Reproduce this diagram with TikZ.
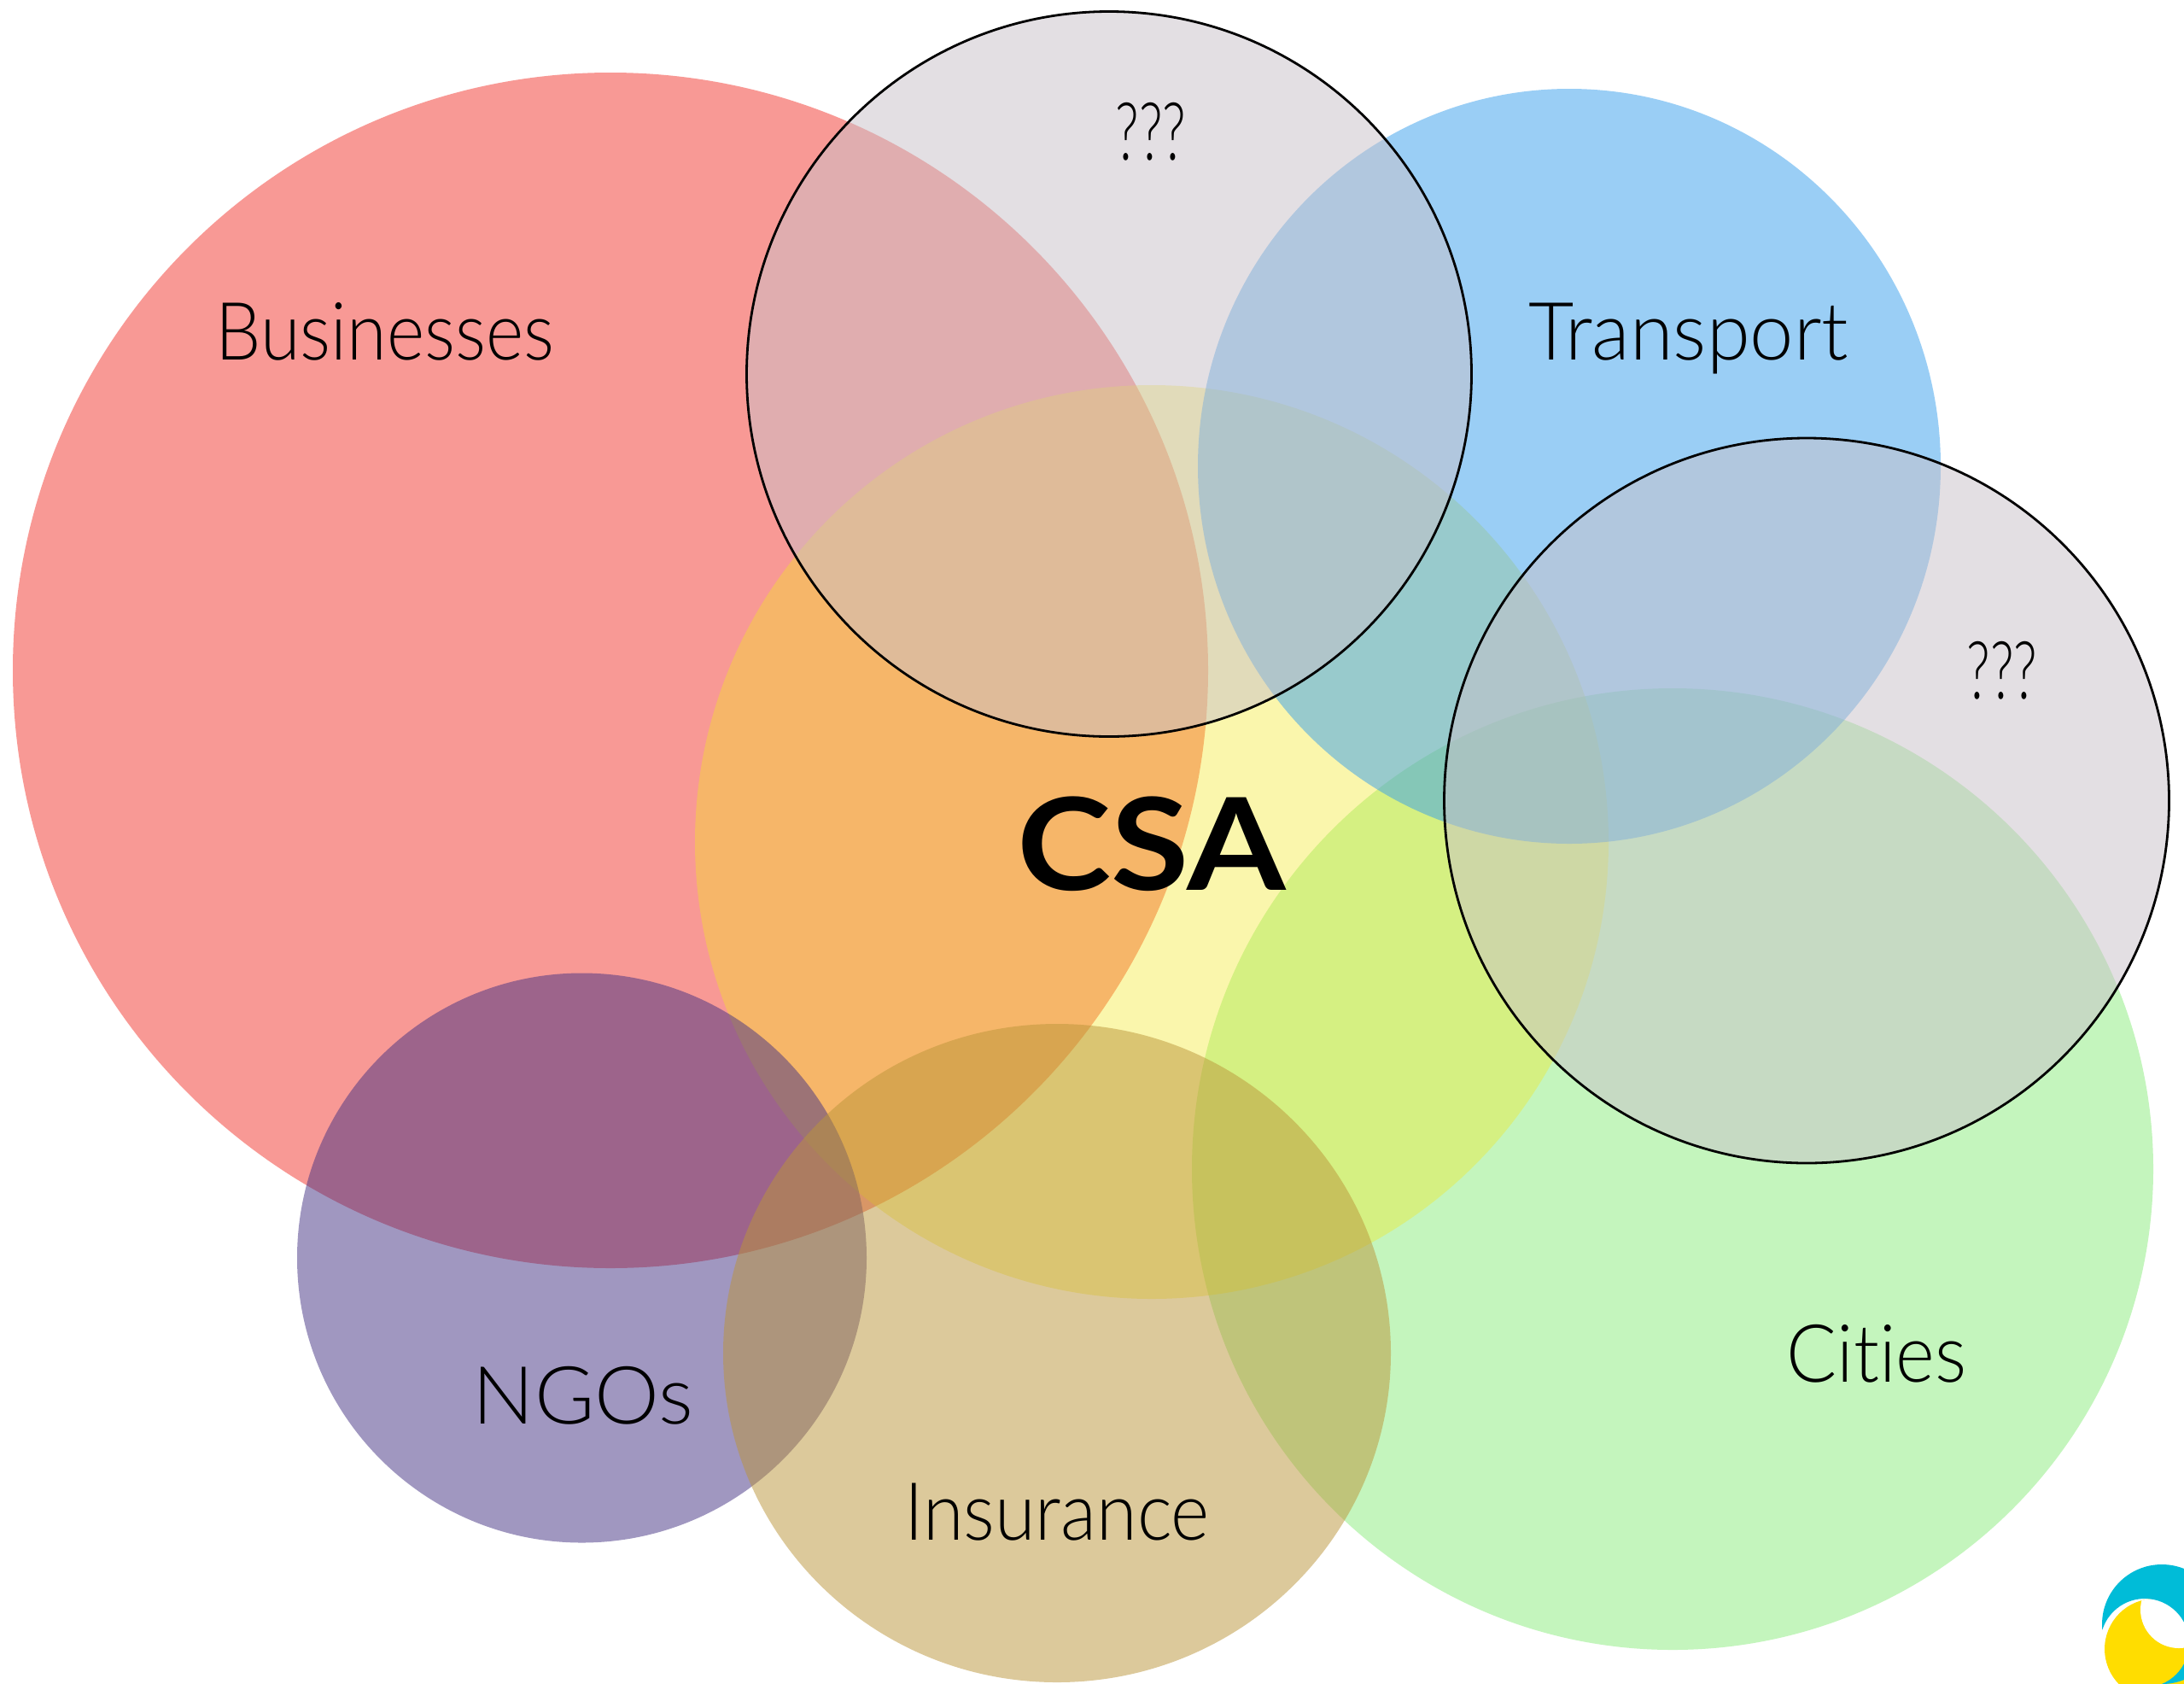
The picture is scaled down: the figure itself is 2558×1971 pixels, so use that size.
\documentclass[tikz,border=0pt]{standalone}
\usepackage{graphicx}
\usepackage{fontspec}
\usetikzlibrary{shapes.geometric}
\setmainfont{Lato}[UprightFont=* Light,BoldFont=* Bold,Ligatures=NoCommon]
\newcommand{\hsq}[2]{\scalebox{#1}[1]{#2}}
\tikzset{
  x=1pt,y=-1pt,
  venn/.style={circle,inner sep=0pt,outer sep=0pt,fill opacity=#1},
  venn/.default=0.5,
  vennell/.style={ellipse,inner sep=0pt,outer sep=0pt,fill opacity=0.5},
  outlined/.style={circle,inner sep=0pt,outer sep=0pt,draw=black,line width=2.8pt,fill=QGrey,fill opacity=0.5},
  lab/.style={anchor=base,inner sep=0pt,font=\fontsize{94}{94}\selectfont,text=black},
}
\definecolor{BizRed}{RGB}{243,53,45}
\definecolor{CsaYel}{RGB}{244,233,30}
\definecolor{TrBlue}{RGB}{55,159,237}
\definecolor{CityGr}{RGB}{138,236,124}
\definecolor{NgoPur}{RGB}{67,49,131}
\definecolor{InsTan}{RGB}{187,149,57}
\definecolor{QGrey}{RGB}{201,193,201}
\definecolor{LogoCy}{RGB}{0,188,216}
\definecolor{LogoYe}{RGB}{255,221,0}
\begin{document}
\begin{tikzpicture}
\useasboundingbox (0,0) rectangle (2558,1971);
\fill[white] (0,0) rectangle (2558,1971);
\node[venn=0.5,fill=BizRed,minimum size=1400pt] (biz) at (715,785) {};
\node[venn=0.5,fill=CityGr,minimum size=1126pt] (cit) at (1959,1369) {};
\node[venn=0.37,fill=CsaYel,minimum size=1070pt] (csa) at (1349,986) {};
\node[vennell,fill=TrBlue,minimum width=870pt,minimum height=884pt] (tra) at (1838,546) {};
\node[venn=0.5,fill=NgoPur,minimum size=667pt] (ngo) at (681.5,1473) {};
\node[vennell,fill=InsTan,minimum width=782pt,minimum height=771pt] (ins) at (1238,1584.5) {};
\node[outlined,minimum size=849pt] (q1) at (1299,438) {};
\node[outlined,minimum size=849pt] (q2) at (2116,937.5) {};
\begin{scope}
\clip (0,0) rectangle (2558,1971);
\begin{scope}
\clip (2524,1931) circle[radius=59];
\fill[LogoYe] (2440,1860) rectangle (2590,1990);
\fill[white] (2552,1885) circle[radius=45];
\end{scope}
\begin{scope}
\clip (2532,1902) circle[radius=70];
\fill[LogoCy,even odd rule] (2440,1810) rectangle (2620,1990) (2512,1924) circle[radius=52];
\end{scope}
\end{scope}
\node[lab] (tbiz) at (451,421) {\hsq{0.9}{Businesses}};
\node[lab] (ttra) at (1978,421) {\hsq{0.98}{Transport}};
\node[lab] (tcit) at (2198,1618) {\hsq{0.93}{Cities}};
\node[lab] (tngo) at (683,1667) {\hsq{1.02}{NGOs}};
\node[lab] (tins) at (1238,1803) {\hsq{0.92}{Insurance}};
\node[lab,font=\fontsize{150}{150}\selectfont\bfseries] (tcsa) at (1349,1042) {\hsq{1.11}{CSA}};
\node[lab] (tq1) at (1348,187) {\hsq{0.68}{???}};
\node[lab] (tq2) at (2345,818) {\hsq{0.68}{???}};
\end{tikzpicture}
\end{document}
